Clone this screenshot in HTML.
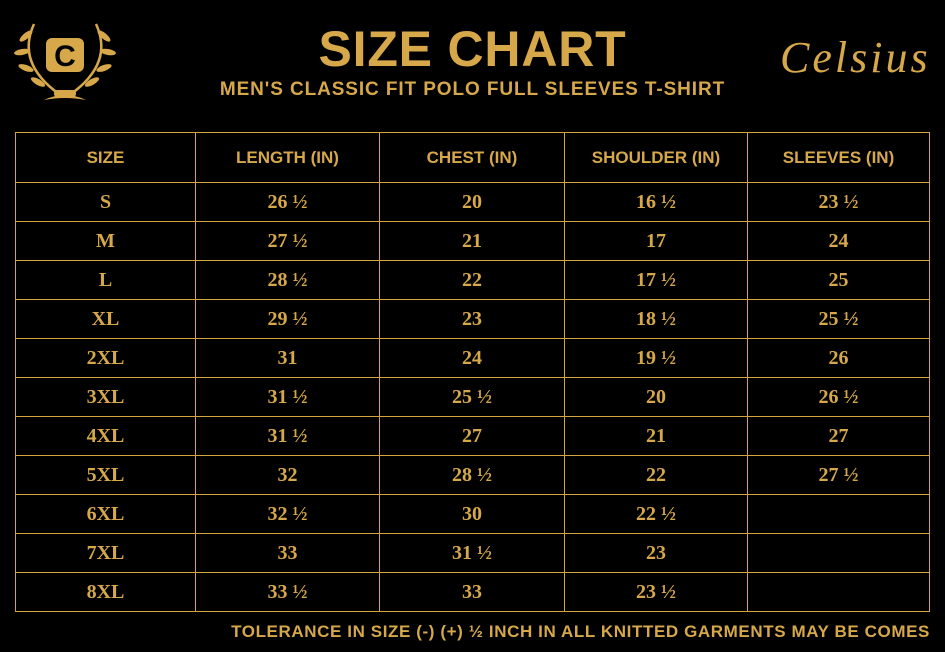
<!DOCTYPE html>
<html><head><meta charset="utf-8"><style>
body{margin:0;width:945px;height:652px;background:#000;overflow:hidden;position:relative;font-family:"Liberation Sans",sans-serif;color:#d6a84a}
.t{position:absolute;left:0;width:945px;text-align:center}
table{position:absolute;left:15px;top:132px;border-collapse:collapse;width:915px;table-layout:fixed}
td{border:1.5px solid #d6a43f;text-align:center;font-family:"Liberation Serif",serif;font-weight:bold;font-size:20px;height:39px;padding:0;box-sizing:border-box}
th{border:1.5px solid #d6a43f;font-weight:bold;font-size:17px;height:50px;padding:0;box-sizing:border-box}
</style></head><body>
<div class="t" style="top:20px;font-size:50px;font-weight:bold;letter-spacing:0.8px">SIZE CHART</div>
<div class="t" style="top:79px;font-size:19px;font-weight:bold;letter-spacing:0.9px">MEN'S CLASSIC FIT POLO FULL SLEEVES T-SHIRT</div>
<svg style="position:absolute;left:14px;top:18px" width="102" height="86" viewBox="0 0 102 86">
<g fill="none" stroke="#d6a84a" stroke-width="2.5"><path d="M20 6 Q2 45 45 76"/><path d="M82 6 Q100 45 57 76"/></g>
<g fill="#d6a84a"><ellipse cx="12" cy="18" rx="8" ry="3" transform="rotate(-40 12 18)"/><ellipse cx="8" cy="34" rx="8" ry="3" transform="rotate(-10 8 34)"/><ellipse cx="12" cy="50" rx="8" ry="3" transform="rotate(20 12 50)"/><ellipse cx="24" cy="64" rx="8" ry="3" transform="rotate(30 24 64)"/>
<ellipse cx="90" cy="18" rx="8" ry="3" transform="rotate(40 90 18)"/><ellipse cx="94" cy="34" rx="8" ry="3" transform="rotate(10 94 34)"/><ellipse cx="90" cy="50" rx="8" ry="3" transform="rotate(-20 90 50)"/><ellipse cx="78" cy="64" rx="8" ry="3" transform="rotate(-30 78 64)"/>
<rect x="32" y="20" width="38" height="34" rx="6"/><path d="M30 82 Q51 72 72 82 Q51 78 30 82Z"/><rect x="40" y="72" width="22" height="7" rx="3"/></g>
<text x="51" y="48" text-anchor="middle" font-family="Liberation Sans" font-weight="bold" font-size="30" fill="#000">C</text></svg>
<div style="position:absolute;left:780px;top:32px;font-family:'Liberation Serif',serif;font-style:italic;font-size:44px;letter-spacing:3px">Celsius</div>
<table>
<tr><th style="width:180px">SIZE</th><th style="width:184px">LENGTH (IN)</th><th style="width:185px">CHEST (IN)</th><th style="width:183px">SHOULDER (IN)</th><th>SLEEVES (IN)</th></tr>
<tr><td>S</td><td>26 ½</td><td>20</td><td>16 ½</td><td>23 ½</td></tr>
<tr><td>M</td><td>27 ½</td><td>21</td><td>17</td><td>24</td></tr>
<tr><td>L</td><td>28 ½</td><td>22</td><td>17 ½</td><td>25</td></tr>
<tr><td>XL</td><td>29 ½</td><td>23</td><td>18 ½</td><td>25 ½</td></tr>
<tr><td>2XL</td><td>31</td><td>24</td><td>19 ½</td><td>26</td></tr>
<tr><td>3XL</td><td>31 ½</td><td>25 ½</td><td>20</td><td>26 ½</td></tr>
<tr><td>4XL</td><td>31 ½</td><td>27</td><td>21</td><td>27</td></tr>
<tr><td>5XL</td><td>32</td><td>28 ½</td><td>22</td><td>27 ½</td></tr>
<tr><td>6XL</td><td>32 ½</td><td>30</td><td>22 ½</td><td></td></tr>
<tr><td>7XL</td><td>33</td><td>31 ½</td><td>23</td><td></td></tr>
<tr><td>8XL</td><td>33 ½</td><td>33</td><td>23 ½</td><td></td></tr>
</table>
<div style="position:absolute;right:15px;top:622px;font-size:17px;font-weight:bold;letter-spacing:0.6px;white-space:nowrap">TOLERANCE IN SIZE (-) (+) ½ INCH IN ALL KNITTED GARMENTS MAY BE COMES</div>
</body></html>
